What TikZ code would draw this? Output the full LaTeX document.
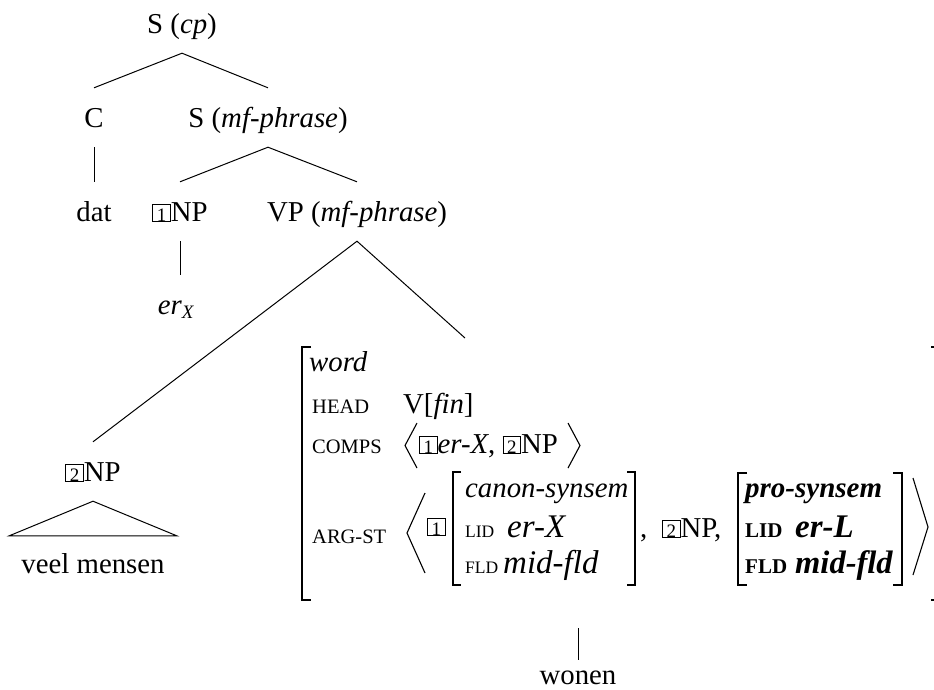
\documentclass[tikz,border=0pt]{standalone}
\usepackage{fontspec}
\setmainfont{Liberation Serif}
\newcommand\mainsz{\fontsize{28.8}{32}\selectfont}
\newcommand\smcp[1]{{\fontsize{20.5}{22}\selectfont #1}}
\newcommand\smcpi[1]{{\fontsize{17.5}{18}\selectfont #1}}
\newcommand\smcpb[1]{{\fontsize{21}{22}\selectfont\bfseries #1}}
\newcommand\bigv[1]{{\fontsize{33}{36}\selectfont #1}}
\newcommand\tg[1]{{\fboxsep=0pt\fboxrule=0.7pt\fbox{\makebox[17pt]{\rule{0pt}{16.5pt}\fontsize{19}{19}\selectfont #1}}}}
\begin{document}
\begin{tikzpicture}[x=1pt,y=-1pt,font=\mainsz,
  tn/.style={anchor=base,inner sep=0pt,text height=39pt,text depth=20pt},
  txt/.style={anchor=base west,inner sep=0pt},
  edge/.style={line width=1pt},
  br/.style={line width=1.4pt},
  bbr/.style={line width=2.6pt},
  ang/.style={line width=1.1pt}]
\clip (0,0) rectangle (934,689);
% tree
\node[tn] (scp) at (182,33) {S (\textit{cp})};
\node[tn] (c) at (94,127) {C};
\node[tn] (smf) at (268,127) {S (\textit{mf-phrase})};
\node[tn] (dat) at (94,221) {dat};
\node[tn] (np1) at (180,221) {\tg{1}NP};
\node[tn] (vp) at (357,221) {VP (\textit{mf-phrase})};
\node[tn] (erx) at (176,314) {\textit{er}\raisebox{-4pt}{\fontsize{19}{19}\selectfont\textit{X}}};
\node[tn] (np2) at (93,481) {\tg{2}NP};
\node[anchor=base,inner xsep=12pt,inner ysep=0pt,text height=37pt] (vm) at (93,573) {veel mensen};
\node[anchor=base,inner sep=0pt,text height=24pt] (won) at (578,684) {wonen};
\coordinate (avmtop) at (465,338);
\coordinate (avmfoot) at (578,628);
\draw[edge] (c.north) -- (scp.south) -- (smf.north);
\draw[edge] (c.south) -- (dat.north);
\draw[edge] (np1.north) -- (smf.south) -- (vp.north);
\draw[edge] (np1.south) -- (np1.south |- erx.north);
\draw[edge] (np2.north) -- (vp.south) -- (avmtop);
\draw[edge] (np2.south) -- (vm.north west) -- (vm.north east) -- cycle;
\draw[edge] (avmfoot) -- (won.north);
% AVM outer brackets
\draw[br] (311,347) -- (302,347) -- (302,600) -- (311,600);
\draw[br] (931,347) -- (941,347) -- (941,600) -- (931,600);
\node[txt] (word) at (309,371) {\textit{word}};
\node[txt] (head) at (312,413) {\smcp{HEAD}};
\node[txt] (headv) at (403,413) {V[\textit{fin}]};
\node[txt] (comps) at (312,453) {\smcp{COMPS}};
\draw[ang] (417,423) -- (405,445.5) -- (417,468);
\node[txt] (compsv) at (419,453) {\tg{1}\textit{er-X}, \tg{2}NP};
\draw[ang] (568,423) -- (580,445.5) -- (568,468);
\node[txt] (argst) at (312,543) {\smcp{ARG-ST}};
\draw[ang] (425,493) -- (407,533) -- (425,573);
\node[txt] (tagone) at (427,535) {\tg{1}};
% canon-synsem
\draw[br] (461,472) -- (453,472) -- (453,585) -- (461,585);
\node[txt] (canon) at (465,497) {\textit{canon-synsem}};
\node[txt] (lidone) at (465,537) {\smcpi{LID}};
\node[txt] (lidonev) at (507,537) {\bigv{\textit{er-X}}};
\node[txt] (fldone) at (465,573) {\smcpi{FLD}};
\node[txt] (fldonev) at (503,573) {\bigv{\textit{mid-fld}}};
\draw[br] (627,472) -- (635,472) -- (635,585) -- (627,585);
\node[txt] (comma) at (640,537) {,};
\node[txt] (nptwo) at (662,537) {\tg{2}NP,};
% pro-synsem
\draw[bbr] (747,473) -- (738,473) -- (738,585) -- (747,585);
\node[txt] (pro) at (745,497) {{\fontsize{29}{32}\selectfont\textbf{\textit{pro-synsem}}}};
\node[txt] (lidtwo) at (745,537) {\smcpb{LID}};
\node[txt] (lidtwov) at (795,537) {{\fontsize{33}{36}\selectfont\textbf{\textit{er-L}}}};
\node[txt] (fldtwo) at (745,573) {\smcpb{FLD}};
\node[txt] (fldtwov) at (795,573) {{\fontsize{32.5}{36}\selectfont\textbf{\textit{mid-fld}}}};
\draw[bbr] (893,473) -- (902,473) -- (902,585) -- (893,585);
\draw[ang] (913,478) -- (928,527) -- (913,575);
\end{tikzpicture}
\end{document}
